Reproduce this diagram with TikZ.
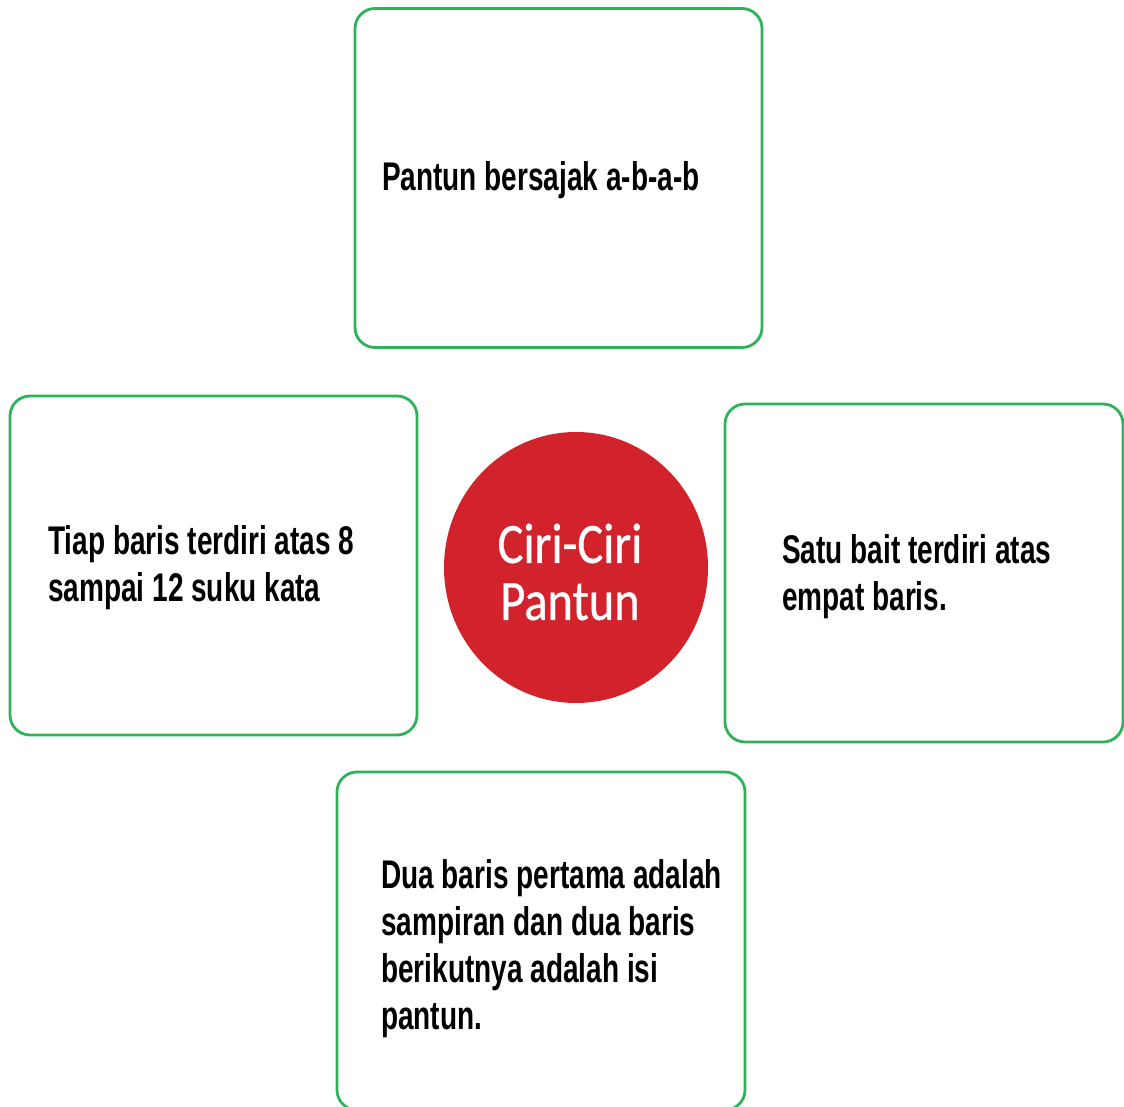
\documentclass[tikz,border=0pt]{standalone}
\usepackage{fontspec}
\setmainfont{Liberation Sans}
\newfontfamily\boxfont[FakeStretch=0.70]{Liberation Sans}
\newfontfamily\titlefont[FakeStretch=0.85,FakeBold=0.6]{Carlito}
\usetikzlibrary{shapes.geometric}
\definecolor{boxgreen}{RGB}{46,178,90}
\definecolor{titlered}{RGB}{210,34,44}
\tikzset{
  ciribox/.style={draw=boxgreen,line width=2.8pt,rounded corners=20pt,fill=white,minimum width=407pt,minimum height=339pt,inner sep=0pt},
  ciritext/.style={anchor=base west,inner sep=0pt,align=left,font=\boxfont\bfseries\fontsize{40}{47}\selectfont,text=black}
}

\begin{document}
\begin{tikzpicture}[x=1pt,y=-1pt]
\useasboundingbox (0,0) rectangle (1124,1107);
\clip (0,0) rectangle (1124,1107);
% four boxes
\node[ciribox] (rima) at (558.5,178) {};
\node[ciribox] (suku) at (213.5,565.5) {};
\node[ciribox,minimum width=398pt,minimum height=338pt] (bait) at (924,573) {};
\node[ciribox,minimum width=408pt,minimum height=338pt] (isi) at (541,941) {};
% texts (base = last line)
\node[ciritext] (rimatext) at (382,191) {Pantun bersajak a-b-a-b};
\node[ciritext] (sukutext) at (48,601) {Tiap baris terdiri atas 8\\sampai 12 suku kata};
\node[ciritext] (baittext) at (782,610) {Satu bait terdiri atas\\empat baris.};
\node[ciritext] (isitext) at (381,1029) {Dua baris pertama adalah\\sampiran dan dua baris\\berikutnya adalah isi\\pantun.};
% centre
\node[ellipse,fill=titlered,minimum width=264pt,minimum height=271pt,inner sep=0pt] (judul) at (576,567.5) {};
\node[text=white,align=center,inner sep=0pt,font=\titlefont\fontsize{57}{57}\selectfont] (judultext) at (570,572) {Ciri-Ciri\\Pantun};
\end{tikzpicture}
\end{document}
